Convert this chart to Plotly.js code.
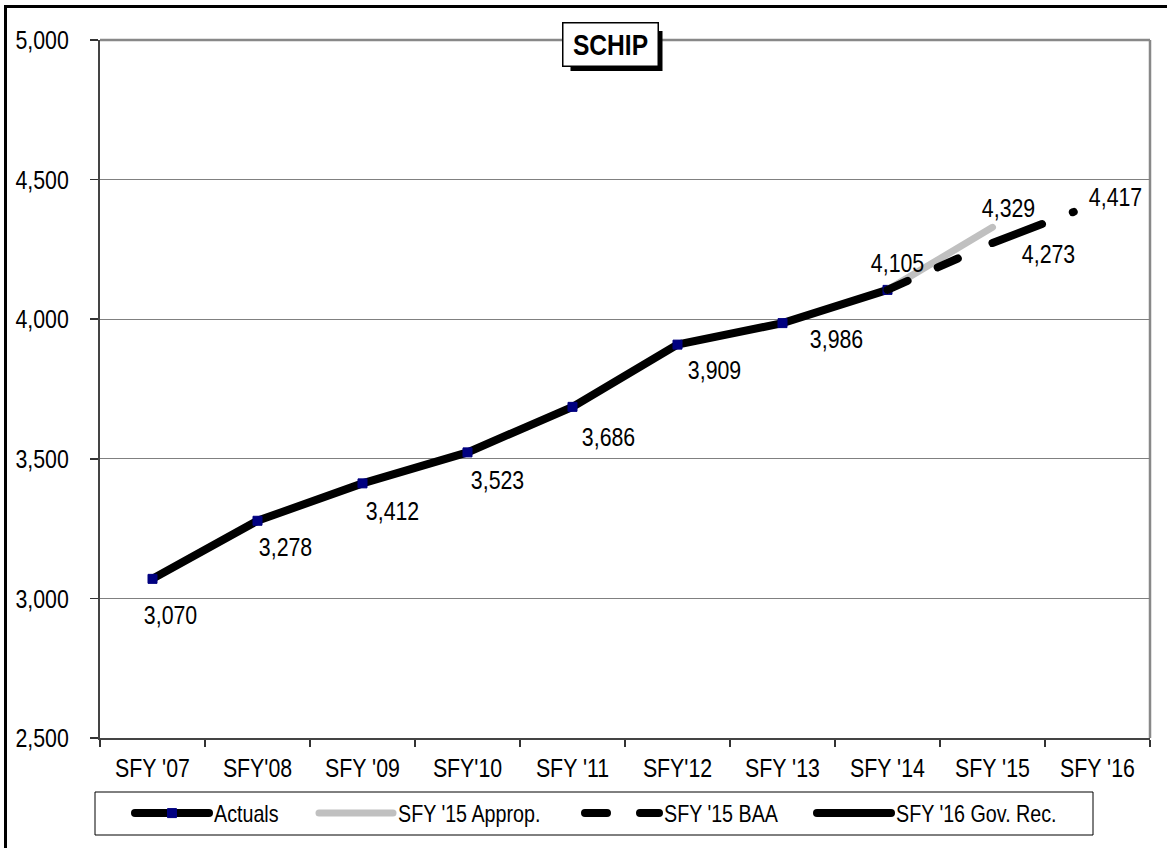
<!DOCTYPE html>
<html>
<head>
<meta charset="utf-8">
<script src="https://cdn.plot.ly/plotly-3.0.1.min.js"></script>
<style>
  html, body { margin: 0; padding: 0; background: #fff; }
  #wrap { position: relative; width: 1171px; height: 848px; }
  #chart { width: 1171px; height: 848px; }
  #frame {
    position: absolute; left: 4px; top: 5px; width: 1163px; height: 843px;
    border-left: 3px solid #000; border-top: 3px solid #000;
    pointer-events: none; box-sizing: border-box;
  }
  .scatterlayer .js-line, .legendlines path { stroke-linecap: round; }
</style>
</head>
<body>
<div id="wrap">
  <div id="chart"></div>
  <div id="frame"></div>
</div>
<script>
// Fiscal years on the category axis
const years = ["SFY '07", "SFY'08", "SFY '09", "SFY'10", "SFY '11", "SFY'12", "SFY '13", "SFY '14", "SFY '15", "SFY '16"];

// SCHIP caseload series (null = no value for that year)
const actuals   = [3070, 3278, 3412, 3523, 3686, 3909, 3986, 4105, null, null];
const approp15  = [null, null, null, null, null, null, null, 4105, 4329, null];
const baa15     = [null, null, null, null, null, null, null, 4105, 4273, 4417];
const govRec16  = [null, null, null, null, null, null, null, null, null, 4417];

// Which values get a data label, and where the label sits relative to its point (px: right, down)
const labelled = [
  { s: actuals,  i: 0, dx: 18, dy: 36 },
  { s: actuals,  i: 1, dx: 28, dy: 26 },
  { s: actuals,  i: 2, dx: 30, dy: 28 },
  { s: actuals,  i: 3, dx: 30, dy: 28 },
  { s: actuals,  i: 4, dx: 36, dy: 30 },
  { s: actuals,  i: 5, dx: 37, dy: 25 },
  { s: actuals,  i: 6, dx: 54, dy: 16 },
  { s: actuals,  i: 7, dx: 10, dy: -27 },
  { s: approp15, i: 8, dx: 16, dy: -19 },
  { s: baa15,    i: 8, dx: 56, dy: 11 },
  { s: govRec16, i: 9, dx: 18, dy: -6 }
];

const FONT = "'Liberation Sans', Arial, sans-serif";
// horizontal squeeze applied to every text, giving a narrow face
const NARROW = 0.82;

// Plot area in pixels (used to place paper-referenced decorations)
const W = 1171, H = 848;
const M = { l: 100, r: 21, t: 40, b: 110 };
const PW = W - M.l - M.r, PH = H - M.t - M.b;
const px = x => (x - M.l) / PW;
const py = y => (H - M.b - y) / PH;

const traces = [
  {
    x: years, y: actuals, name: 'Actuals', mode: 'lines+markers',
    line: { color: '#000', width: 8 },
    marker: { symbol: 'square', size: 9, color: '#000080', line: { color: '#000080', width: 1 } },
    legend: 'legend', hoverinfo: 'x+y'
  },
  {
    x: years, y: approp15, name: "SFY '15 Approp.", mode: 'lines',
    line: { color: '#c0c0c0', width: 7 },
    legend: 'legend2', hoverinfo: 'x+y'
  },
  {
    x: years, y: baa15, name: "SFY '15 BAA", mode: 'lines',
    line: { color: '#000', width: 8, dash: '22px,33px,22px,38px,53px,33px,1px,60px' },
    legend: 'legend3', hoverinfo: 'x+y'
  },
  {
    x: years, y: govRec16, name: "SFY '16 Gov. Rec.", mode: 'lines',
    line: { color: '#000', width: 8 },
    legend: 'legend4', hoverinfo: 'x+y'
  }
];

const fmt = v => v.toLocaleString('en-US');

const annotations = labelled.map(d => ({
  x: years[d.i], y: d.s[d.i], xref: 'x', yref: 'y',
  text: fmt(d.s[d.i]), showarrow: false,
  xanchor: 'center', yanchor: 'middle',
  xshift: d.dx, yshift: -d.dy,
  font: { family: FONT, size: 26, color: '#000' }
}));

// Title box (its drop shadow is a shape below)
annotations.push({
  xref: 'paper', yref: 'paper', x: px(610.5), y: py(45), xanchor: 'center', yanchor: 'middle',
  text: 'SCHIP', showarrow: false,
  width: 92, height: 40, bgcolor: '#fff', bordercolor: '#000', borderwidth: 1.5,
  font: { family: FONT, size: 30, color: '#000', weight: 'bold' }
});

const legendBase = {
  orientation: 'h', yanchor: 'middle', xanchor: 'left', y: py(813.5),
  bgcolor: 'rgba(0,0,0,0)', borderwidth: 0, itemwidth: 74,
  font: { family: FONT, size: 24, color: '#000' }
};

const layout = {
  width: W, height: H, autosize: false,
  margin: M,
  paper_bgcolor: '#fff', plot_bgcolor: '#fff',
  showlegend: true,
  xaxis: {
    type: 'category', range: [-0.5, 9.5], tickson: 'boundaries',
    ticks: 'outside', ticklen: 7, tickwidth: 1.5, tickcolor: '#333',
    showline: true, linecolor: '#444', linewidth: 2,
    showgrid: false, zeroline: false, fixedrange: true,
    tickfont: { family: FONT, size: 26, color: '#000' },
    ticklabelstandoff: 6
  },
  yaxis: {
    range: [2500, 5000], dtick: 500, tickformat: ',d',
    ticks: 'outside', ticklen: 8, tickwidth: 1.5, tickcolor: '#333',
    showline: true, linecolor: '#444', linewidth: 2,
    showgrid: true, gridcolor: '#808080', gridwidth: 1,
    zeroline: false, fixedrange: true,
    tickfont: { family: FONT, size: 26, color: '#000' },
    ticklabelstandoff: 16
  },
  legend:  Object.assign({}, legendBase, { x: px(130) }),
  legend2: Object.assign({}, legendBase, { x: px(314) }),
  legend3: Object.assign({}, legendBase, { x: px(580) }),
  legend4: Object.assign({}, legendBase, { x: px(812) }),
  shapes: [
    // top and right edges of the plot area
    { type: 'line', xref: 'paper', yref: 'paper', x0: 0, x1: 1, y0: 1, y1: 1, line: { color: '#888', width: 2.5 }, layer: 'below' },
    { type: 'line', xref: 'paper', yref: 'paper', x0: 1, x1: 1, y0: 0, y1: 1, line: { color: '#888', width: 2.5 }, layer: 'below' },
    // drop shadow of the title box
    { type: 'rect', xref: 'paper', yref: 'paper', x0: px(570.5), x1: px(662.5), y0: py(71), y1: py(31), line: { width: 0 }, fillcolor: '#000', layer: 'above' },
    // legend frame
    { type: 'rect', xref: 'paper', yref: 'paper', x0: px(95), x1: px(1093), y0: py(835), y1: py(792), line: { color: '#000', width: 1 }, fillcolor: 'rgba(0,0,0,0)' }
  ],
  annotations: annotations
};

// Squeeze each rendered text horizontally around its anchor
function narrowTexts(gd) {
  gd.querySelectorAll('svg text').forEach(t => {
    const len = t.getComputedTextLength();
    if (len > 0) {
      t.setAttribute('textLength', (len * NARROW).toFixed(2));
      t.setAttribute('lengthAdjust', 'spacingAndGlyphs');
    }
  });
}

Plotly.newPlot('chart', traces, layout, { displayModeBar: false, staticPlot: true })
  .then(narrowTexts);
</script>
</body>
</html>
